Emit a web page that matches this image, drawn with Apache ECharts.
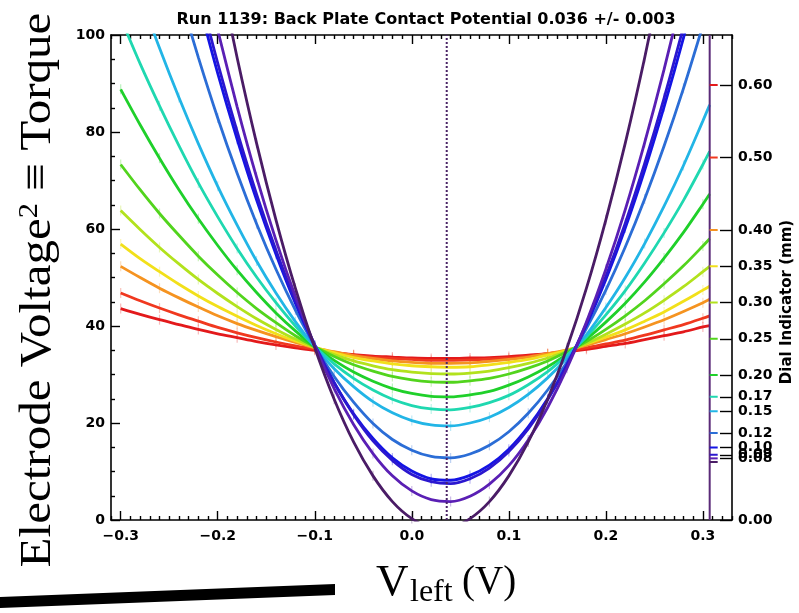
<!DOCTYPE html>
<html><head><meta charset="utf-8">
<script src="https://cdn.jsdelivr.net/npm/echarts@6/dist/echarts.min.js"></script>
<style>html,body{margin:0;padding:0;background:#fff}#c{width:799px;height:613px}</style>
</head><body><div id="c"></div>
<script>
// ---------- data ----------
const titleText = 'Run 1139: Back Plate Contact Potential 0.036 +/- 0.003';
const xs = [-0.30,-0.28,-0.26,-0.24,-0.22,-0.20,-0.18,-0.16,-0.14,-0.12,-0.10,-0.08,-0.06,-0.04,-0.02,0.00,0.02,0.04,0.06,0.08,0.10,0.12,0.14,0.16,0.18,0.20,0.22,0.24,0.26,0.28,0.30,0.307];
const dialValues = [0.60,0.50,0.40,0.35,0.30,0.25,0.20,0.17,0.15,0.12,0.10,0.09,0.085,0.08];
const dialLabels = ['0.60','0.50','0.40','0.35','0.30','0.25','0.20','0.17','0.15','0.12','0.10','0.09','0.08','0.08'];
const y060 = [43.6,42.4,41.3,40.3,39.3,38.4,37.6,36.8,36.1,35.5,35.0,34.5,34.1,33.8,33.6,33.4,33.3,33.3,33.4,33.5,33.7,34.0,34.3,34.7,35.2,35.8,36.4,37.2,38.0,38.8,39.8,40.1];
const y050 = [46.8,45.2,43.7,42.3,41.0,39.7,38.6,37.6,36.7,35.9,35.2,34.5,34.0,33.6,33.3,33.1,32.9,32.9,33.0,33.2,33.4,33.8,34.3,34.8,35.5,36.3,37.1,38.1,39.2,40.3,41.6,42.1];
const y040 = [52.3,50.0,47.8,45.8,43.9,42.1,40.5,39.1,37.8,36.6,35.5,34.7,33.9,33.3,32.8,32.5,32.3,32.3,32.4,32.7,33.1,33.6,34.3,35.1,36.0,37.2,38.4,39.8,41.3,43.0,44.8,45.5];
const y035 = [56.9,53.9,51.2,48.6,46.2,44.0,42.0,40.1,38.4,36.9,35.6,34.5,33.5,32.8,32.2,31.8,31.6,31.5,31.6,32.0,32.5,33.1,34.0,35.0,36.3,37.7,39.2,41.0,42.9,45.1,47.4,48.2];
const y030 = [63.8,59.9,56.2,52.8,49.6,46.7,44.0,41.5,39.3,37.3,35.6,34.1,32.8,31.8,31.0,30.5,30.2,30.1,30.3,30.7,31.4,32.3,33.4,34.8,36.4,38.3,40.4,42.7,45.3,48.1,51.2,52.3];
const y025 = [73.3,68.1,63.2,58.7,54.4,50.5,46.9,43.6,40.7,38.0,35.7,33.7,32.0,30.7,29.6,28.9,28.5,28.4,28.7,29.2,30.1,31.3,32.8,34.7,36.8,39.3,42.1,45.2,48.7,52.4,56.5,58.0];
const y020 = [88.8,81.5,74.6,68.1,62.1,56.6,51.5,46.9,42.7,39.0,35.7,32.9,30.5,28.6,27.1,26.1,25.5,25.4,25.8,26.5,27.8,29.5,31.6,34.2,37.3,40.8,44.7,49.1,54.0,59.3,65.1,67.2];
const y017 = [103.5,94.1,85.4,77.2,69.5,62.5,56.0,50.1,44.8,40.0,35.8,32.2,29.2,26.8,24.9,23.6,22.9,22.7,23.2,24.2,25.7,27.9,30.6,34.0,37.8,42.3,47.3,53.0,59.2,65.9,73.3,76.0];
const y015 = [null,108.2,97.3,87.1,77.6,68.8,60.8,53.4,46.8,40.9,35.7,31.2,27.5,24.4,22.1,20.5,19.6,19.4,20.0,21.2,23.2,25.9,29.3,33.4,38.2,43.8,50.0,57.0,64.7,73.1,82.3,85.6];
const y012 = [null,null,null,108.8,95.4,82.9,71.5,61.1,51.7,43.3,35.9,29.6,24.3,19.9,16.6,14.4,13.1,12.8,13.6,15.4,18.2,22.0,26.8,32.6,39.5,47.4,56.3,66.2,77.1,89.0,102.0,106.8];
const y010 = [null,null,null,null,107.0,92.1,78.5,66.0,54.8,44.7,35.9,28.3,21.9,16.8,12.8,10.1,8.5,8.2,9.2,11.3,14.6,19.2,25.0,32.0,40.2,49.6,60.2,72.1,85.2,99.4,114.9,null];
const y009 = [null,null,null,null,109.6,94.2,80.1,67.2,55.6,45.2,36.1,28.3,21.7,16.3,12.3,9.4,7.9,7.5,8.5,10.7,14.1,18.8,24.8,32.0,40.5,50.2,61.2,73.5,87.0,101.7,null,null];
const y0085 = [null,null,null,null,null,101.0,85.2,70.7,57.7,46.1,35.9,27.1,19.7,13.7,9.1,6.0,4.2,3.8,4.9,7.4,11.2,16.5,23.2,31.3,40.8,51.7,64.0,77.8,92.9,109.4,null,null];
const y008 = [null,null,null,null,null,114.7,95.3,77.7,61.9,47.8,35.5,24.9,16.1,9.1,3.8,0.3,-1.5,-1.5,0.3,3.8,9.1,16.1,24.9,35.5,47.8,61.9,77.7,95.3,114.7,null,null,null];
const curves = [y060,y050,y040,y035,y030,y025,y020,y017,y015,y012,y010,y009,y0085,y008];
const contactPotential = 0.036;
const curveEndX = 0.307;
const xTickValues = [-0.3,-0.2,-0.1,0.0,0.1,0.2,0.3];
const yTickValues = [0,20,40,60,80,100];

// ---------- styling ----------
const colors = ['#e3191b','#f0381f','#f59320','#f2e01a','#b2e21d','#52d41d','#1fd02a','#1fd8b0','#22b5e6','#2b6dd6','#1414e4','#2b17cf','#5a1fb4','#4a1c66'];
const tickFont = {color:'#000', fontFamily:'DejaVu Sans', fontWeight:'bold', fontSize:14};
const XMIN=-0.31, XMAX=0.33, YMAX=100, DMAX=0.669;
const xMinor=[]; for(let k=-31;k<=33;k++){ if(k%10!==0) xMinor.push(k/100); }
const yMinor=[]; for(let v=0; v<=100; v+=5){ if(v%20!==0) yMinor.push(v); }
const fmtX = v => (Math.abs(v)<1e-9?0:v).toFixed(1).replace('-','\u2212');
const axisLine = {show:true,onZero:false,lineStyle:{color:'#000',width:1.6}};
const noLine = {show:false,onZero:false};

function xAx(pos, ticks, len, showLine, labels){
  return {type:'value',min:XMIN,max:XMAX,position:pos,
    axisLine: showLine ? axisLine : noLine, splitLine:{show:false},
    axisTick:{show:true,inside:true,length:len,customValues:ticks,lineStyle:{color:'#000',width:1.4}},
    axisLabel: labels ? Object.assign({show:true,customValues:labels,formatter:fmtX,margin:9}, tickFont) : {show:false}};
}
function yAx(pos, ticks, len, showLine, labels, max, fmt){
  return {type:'value',min:0,max:max,position:pos,
    axisLine: showLine ? axisLine : noLine, splitLine:{show:false},
    axisTick:{show:true,inside:true,length:len,customValues:ticks,lineStyle:{color:'#000',width:1.4}},
    axisLabel: labels ? Object.assign({show:true,customValues:labels,formatter:fmt,margin:6}, tickFont) : {show:false}};
}
const dialFmt = v => { for(let i=0;i<dialValues.length;i++){ if(Math.abs(v-dialValues[i])<1e-6) return dialLabels[i]; } return '0.00'; };

const series = [];
curves.forEach((ys,ci)=>{
  const data=[]; xs.forEach((x,i)=>{ if(ys[i]!==null) data.push([x,ys[i]]); });
  series.push({type:'line',xAxisIndex:0,yAxisIndex:0,data:data,smooth:0.3,showSymbol:false,
    lineStyle:{color:colors[ci],width:2.8},itemStyle:{color:colors[ci]},z:3+ci,silent:true,animation:false});
  // faint measurement error bars at the measured points
  series.push({type:'scatter',xAxisIndex:0,yAxisIndex:0,data:data.filter((p,i)=>i%2===0 && p[1]>=0 && p[1]<=100),symbol:'rect',symbolSize:[1.2,10],
    itemStyle:{color:colors[ci],opacity:0.3},z:2,silent:true,animation:false});
});
series.push({type:'line',xAxisIndex:0,yAxisIndex:0,data:[[contactPotential,0],[contactPotential,YMAX]],showSymbol:false,
  lineStyle:{color:'#4a2466',width:2,type:[2,2]},z:20,silent:true,animation:false});
series.push({type:'line',xAxisIndex:0,yAxisIndex:0,data:[[curveEndX,0],[curveEndX,YMAX]],showSymbol:false,
  lineStyle:{color:'#5a2a78',width:2},z:20,silent:true,animation:false});
series.push({type:'custom',xAxisIndex:0,yAxisIndex:2,clip:false,silent:true,animation:false,z:21,
  data: dialValues.map((d,i)=>[curveEndX,d,i]),
  renderItem:(params,api)=>{ const p=api.coord([api.value(0),api.value(1)]);
    return {type:'line',shape:{x1:p[0],y1:p[1],x2:p[0]+8,y2:p[1]},style:{stroke:colors[api.value(2)],lineWidth:2}}; }});

const chart = echarts.init(document.getElementById('c'),null,{renderer:'canvas'});
chart.setOption({
  animation:false,
  backgroundColor:'#fff',
  title:{text:titleText,left:421,top:7,textAlign:'center',textStyle:{fontFamily:'DejaVu Sans',fontWeight:'bold',fontSize:16,color:'#000'}},
  grid:{left:111,right:67,top:35,bottom:93,containLabel:false,outerBoundsMode:'none'},
  xAxis:[ xAx('bottom',xTickValues,9,true,xTickValues), xAx('bottom',xMinor,4,false,null), xAx('top',xTickValues,9,true,null), xAx('top',xMinor,4,false,null) ],
  yAxis:[ yAx('left',yTickValues,9,true,yTickValues,YMAX,v=>String(v)), yAx('left',yMinor,4,false,null,YMAX,null),
          yAx('right',[0].concat(dialValues),12,true,[0].concat(dialValues),DMAX,dialFmt) ],
  series:series,
  graphic:[
    {type:'text',x:38,y:290,rotation:Math.PI/2,scaleX:1.09,style:{text:'{a|Electrode Voltage}{s|2}{a| \u2261 Torque}',align:'center',verticalAlign:'middle',
      rich:{a:{fontFamily:'Liberation Serif',fontSize:45,color:'#000'},s:{fontFamily:'Liberation Serif',fontSize:28,color:'#000',verticalAlign:'top'}}}},
    {type:'text',x:376,y:583,style:{text:'V',fontFamily:'Liberation Serif',fontSize:45,fill:'#000',align:'left',verticalAlign:'middle'}},
    {type:'text',x:410,y:593,style:{text:'left',fontFamily:'Liberation Serif',fontSize:32,fill:'#000',align:'left',verticalAlign:'middle'}},
    {type:'text',x:462,y:583,style:{text:'(V)',fontFamily:'Liberation Serif',fontSize:39,fill:'#000',align:'left',verticalAlign:'middle'}},
    {type:'text',x:787,y:302,rotation:Math.PI/2,style:{text:'Dial Indicator (mm)',fontFamily:'DejaVu Sans',fontWeight:'bold',fontSize:15,fill:'#000',align:'center',verticalAlign:'middle'}},
    {type:'polygon',shape:{points:[[0,597],[335,584],[335,595],[0,608]]},style:{fill:'#000'}}
  ]
});
</script></body></html>
